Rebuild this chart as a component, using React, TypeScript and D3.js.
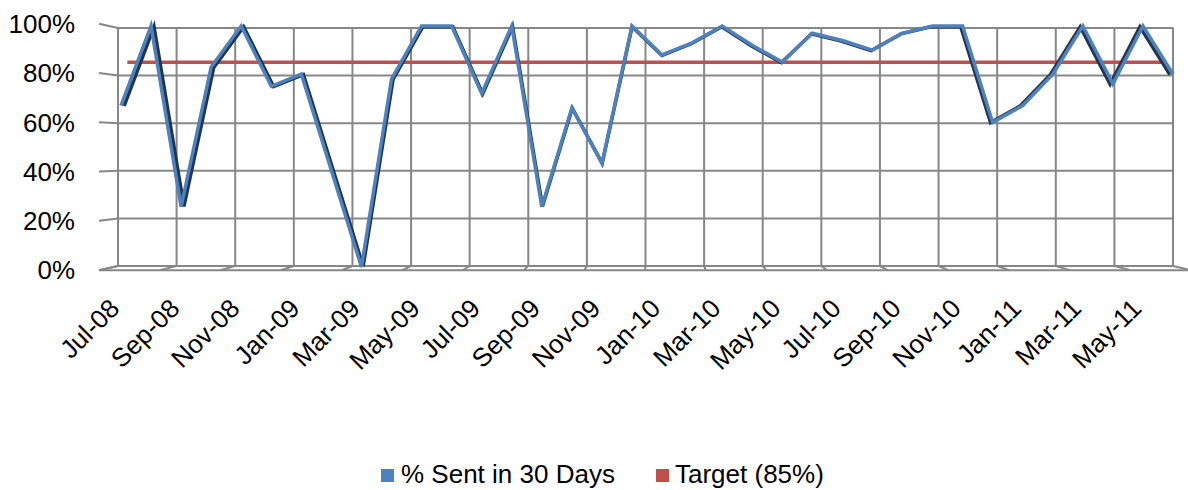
import React from "react";
import * as d3 from "d3";

const months = [
  "Jul-08","Aug-08","Sep-08","Oct-08","Nov-08","Dec-08",
  "Jan-09","Feb-09","Mar-09","Apr-09","May-09","Jun-09",
  "Jul-09","Aug-09","Sep-09","Oct-09","Nov-09","Dec-09",
  "Jan-10","Feb-10","Mar-10","Apr-10","May-10","Jun-10",
  "Jul-10","Aug-10","Sep-10","Oct-10","Nov-10","Dec-10",
  "Jan-11","Feb-11","Mar-11","Apr-11","May-11","Jun-11",
];
const sentIn30Days = [
  0.67, 1.0, 0.25, 0.83, 1.0, 0.75,
  0.8, 0.4, 0.0, 0.78, 1.0, 1.0,
  0.72, 1.0, 0.25, 0.66, 0.43, 1.0,
  0.88, 0.93, 1.0, 0.92, 0.85, 0.97,
  0.94, 0.9, 0.97, 1.0, 1.0, 0.6,
  0.67, 0.8, 1.0, 0.76, 1.0, 0.8,
];
const target = months.map(() => 0.85);
const yTicks = [0, 0.2, 0.4, 0.6, 0.8, 1.0];
const seriesNames = ["% Sent in 30 Days", "Target (85%)"];
const seriesColors = ["#4f81bd", "#c0504d"];

const W = 1188;
const H = 490;
const FONT = "'Liberation Sans', Arial, sans-serif";

export default function App() {
  // back wall geometry
  const wallL = 118, wallR = 1173, wallT = 28, wallB = 266;
  const vp = { x: 660, y: 148 };
  const sFront = 1.035;
  const front = (x: number, y: number) => [vp.x + (x - vp.x) * sFront, vp.y + (y - vp.y) * sFront];

  const yWall = d3.scaleLinear().domain([0, 1]).range([wallB, wallT]);
  const xWall = d3.scaleLinear().domain([0, months.length]).range([wallL, wallR]);

  // data ribbon scales
  const x = d3.scalePoint<string>().domain(months).range([121, 1173]);
  const y = d3.scaleLinear().domain([0, 1]).range([267, 26]);
  const cx = (121 + 1173) / 2;

  const blueLine = d3.line<number>()
    .x((_, i) => x(months[i])!)
    .y((d) => y(d));
  const shadowLine = d3.line<number>()
    .x((_, i) => x(months[i])! + (cx - x(months[i])!) * 0.006)
    .y((d) => y(d) + (vp.y - y(d)) * 0.006);
  const redLine = d3.line<number>()
    .x((_, i) => cx + (x(months[i])! - cx) * 0.988)
    .y((d) => y(d));

  const grid = "#878787";
  const gridW = 2;
  const majorIdx = d3.range(0, months.length + 1, 2);

  return (
    <svg width={W} height={H} style={{ position: "absolute", left: 0, top: 0, background: "#fff" }}>
      {/* back wall horizontal gridlines and left wall edges */}
      {yTicks.map((t) => {
        const yb = yWall(t);
        const [fx, fy] = front(wallL, yb);
        return (
          <g key={"h" + t}>
            <line x1={wallL} x2={wallR} y1={yb} y2={yb} stroke={grid} strokeWidth={gridW} />
            <line x1={fx} y1={fy} x2={wallL} y2={yb} stroke={grid} strokeWidth={gridW} />
          </g>
        );
      })}
      {/* back wall vertical gridlines */}
      {majorIdx.map((m) => (
        <line key={"v" + m} x1={xWall(m)} x2={xWall(m)} y1={wallT} y2={wallB} stroke={grid} strokeWidth={gridW} />
      ))}
      {/* floor */}
      {(() => {
        const [fl, fb] = front(wallL, wallB);
        const [fr] = front(wallR, wallB);
        return <line x1={fl} x2={fr} y1={fb} y2={fb} stroke={grid} strokeWidth={gridW} />;
      })()}
      {majorIdx.map((m) => {
        const [fx, fy] = front(xWall(m), wallB);
        return <line key={"f" + m} x1={xWall(m)} y1={wallB} x2={fx} y2={fy} stroke={grid} strokeWidth={gridW} />;
      })}

      {/* target series (behind) */}
      <path d={redLine(target)!} fill="none" stroke={seriesColors[1]} strokeWidth={3.5} />

      {/* main series ribbon */}
      <path d={shadowLine(sentIn30Days)!} fill="none" stroke="#1f3550" strokeWidth={3.5} strokeLinejoin="miter" strokeMiterlimit={4} />
      <path d={blueLine(sentIn30Days)!} fill="none" stroke={seriesColors[0]} strokeWidth={3.5} strokeLinejoin="miter" strokeMiterlimit={4} />

      {/* y axis labels */}
      {yTicks.map((t) => {
        const [, fy] = front(wallL, yWall(t));
        return (
          <text key={"yl" + t} x={75} y={fy} dy="0.36em" textAnchor="end" fontFamily={FONT} fontSize={26} fill="#000">
            {d3.format(".0%")(t)}
          </text>
        );
      })}

      {/* x axis labels */}
      {months.map((m, i) =>
        i % 2 === 0 ? (
          <text
            key={"xl" + m}
            transform={`translate(${x(m)},310) rotate(-45)`}
            textAnchor="end"
            fontFamily={FONT}
            fontSize={26}
            fill="#000"
          >
            {m}
          </text>
        ) : null
      )}

      {/* legend */}
      <rect x={381} y={469} width={13} height={13} fill={seriesColors[0]} />
      <text x={401} y={483} fontFamily={FONT} fontSize={26} fill="#000">{seriesNames[0]}</text>
      <rect x={656} y={469} width={13} height={13} fill={seriesColors[1]} />
      <text x={675} y={483} fontFamily={FONT} fontSize={26} fill="#000">{seriesNames[1]}</text>
    </svg>
  );
}
